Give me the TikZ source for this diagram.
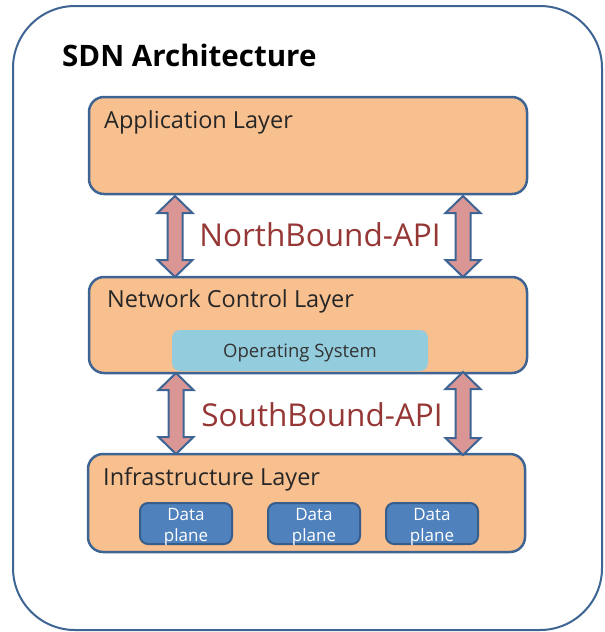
\documentclass[tikz,border=0pt]{standalone}
\usepackage{fontspec}
\setmainfont{Open Sans}
\definecolor{bordc}{HTML}{3E6494}
\definecolor{layerfill}{HTML}{F8BF8F}
\definecolor{arrowfill}{HTML}{D99694}
\definecolor{osfill}{HTML}{93CDDD}
\definecolor{dpfill}{HTML}{4F81BD}
\definecolor{dpbord}{HTML}{385D8A}
\definecolor{apitext}{HTML}{953735}
\newcommand\blockarrow[3]{% x, ytop, ybot
  \draw[arrowstyle] (#1,#2) -- (#1+17.5,#2+17) -- (#1+7.5,#2+17) -- (#1+7.5,#3-17) -- (#1+17.5,#3-17)
   -- (#1,#3) -- (#1-17.5,#3-17) -- (#1-7.5,#3-17) -- (#1-7.5,#2+17) -- (#1-17.5,#2+17) -- cycle;}
\begin{document}
\begin{tikzpicture}[x=1pt,y=-1pt,
  outerbox/.style={draw=bordc,line width=2pt,rounded corners=62pt},
  layerbox/.style={draw=bordc,fill=layerfill,line width=2.5pt,rounded corners=15pt},
  osbox/.style={fill=osfill,rounded corners=8pt},
  dpbox/.style={draw=dpbord,fill=dpfill,line width=2pt,rounded corners=8pt},
  arrowstyle/.style={draw=bordc,fill=arrowfill,line width=2pt,line join=miter},
  layertext/.style={anchor=base west,inner sep=0pt,font=\fontsize{23.5}{28}\selectfont,text=black!85},
  apitextstyle/.style={anchor=base,inner sep=0pt,font=\fontsize{31.5}{36}\selectfont,text=apitext},
  dptext/.style={anchor=base,inner sep=0pt,font=\fontsize{17}{20}\selectfont,text=white}]
\useasboundingbox (0,0) rectangle (605,632);
\draw[outerbox] (13,6) rectangle (602,630);
\node[anchor=base west,inner sep=0pt,font=\fontsize{29.5}{34}\selectfont\bfseries] (title) at (62,66) {SDN Architecture};
% layers
\draw[layerbox] (89,97) rectangle (527,194);
\node[layertext] (app) at (104,128) {Application Layer};
\draw[layerbox] (89,277) rectangle (527,373);
\node[layertext] (nc) at (107,307) {Network Control Layer};
\fill[osbox] (172,330) rectangle (428,371);
\node[anchor=base,inner sep=0pt,font=\fontsize{18.5}{22}\selectfont,text=black!80] (os) at (300,357) {Operating System};
\draw[layerbox] (88,454) rectangle (525,552);
\node[layertext] (infra) at (103,485) {Infrastructure Layer};
% data planes
\draw[dpbox] (140,503) rectangle (232,544);
\node[dptext] (dp1a) at (186,520) {Data};
\node[dptext] (dp1b) at (186,541) {plane};
\draw[dpbox] (268,503) rectangle (360,544);
\node[dptext] (dp2a) at (314,520) {Data};
\node[dptext] (dp2b) at (314,541) {plane};
\draw[dpbox] (386,503) rectangle (478,544);
\node[dptext] (dp3a) at (432,520) {Data};
\node[dptext] (dp3b) at (432,541) {plane};
% arrows
\blockarrow{175}{196}{277}
\blockarrow{463}{196}{277}
\blockarrow{176}{373}{454}
\blockarrow{463}{372}{455}
\node[apitextstyle] (nb) at (320,246) {NorthBound-API};
\node[apitextstyle] (sb) at (322,426) {SouthBound-API};
\end{tikzpicture}
\end{document}
